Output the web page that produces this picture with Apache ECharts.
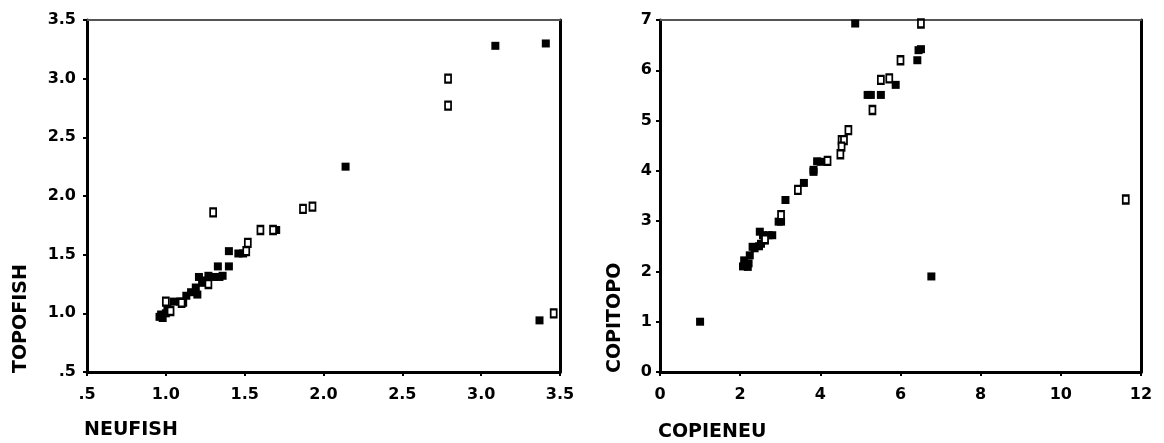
<!DOCTYPE html>
<html>
<head>
<meta charset="utf-8">
<script src="https://cdn.jsdelivr.net/npm/echarts@6/dist/echarts.min.js"></script>
<style>
  html, body { margin: 0; padding: 0; background: #fff; }
  #chart { width: 1164px; height: 443px; }
</style>
</head>
<body>
<div id="chart"></div>
<script>
// NEUFISH vs TOPOFISH
const fishSolid = [
  [3.09, 3.28], [3.41, 3.30], [2.14, 2.25], [1.70, 1.71], [1.40, 1.53],
  [1.46, 1.51], [1.49, 1.51], [1.40, 1.40], [1.33, 1.40], [1.34, 1.31],
  [1.30, 1.31], [1.21, 1.31], [1.25, 1.28], [1.23, 1.26], [1.19, 1.22],
  [1.16, 1.18], [1.13, 1.15], [1.20, 1.16], [1.09, 1.10], [1.11, 1.09],
  [1.05, 1.10], [1.01, 1.04], [1.00, 1.00], [0.96, 0.97], [0.98, 0.96],
  [0.97, 0.99], [3.37, 0.94], [1.36, 1.32], [1.27, 1.32]
];
const fishHollow = [
  [2.79, 3.00], [2.79, 2.77], [1.30, 1.86], [1.87, 1.89], [1.93, 1.91],
  [1.60, 1.71], [1.68, 1.71], [1.52, 1.60], [1.51, 1.53], [1.27, 1.25],
  [1.00, 1.10], [1.03, 1.02], [3.46, 1.00], [1.10, 1.09]
];

// COPIENEU vs COPITOPO
const copiSolid = [
  [1.00, 1.00], [4.87, 6.93], [6.51, 6.42], [6.45, 6.40], [6.42, 6.20],
  [5.88, 5.71], [5.18, 5.51], [5.26, 5.51], [5.51, 5.51], [3.92, 4.19],
  [4.01, 4.18], [3.83, 3.98], [3.83, 4.02], [3.59, 3.76], [3.13, 3.42],
  [2.96, 2.99], [3.02, 2.99], [2.80, 2.72], [2.71, 2.72], [2.57, 2.72],
  [2.49, 2.79], [2.61, 2.62], [2.47, 2.50], [2.31, 2.49], [2.36, 2.46],
  [2.24, 2.32], [2.21, 2.16], [2.10, 2.22], [2.07, 2.10], [2.19, 2.09],
  [6.77, 1.90], [2.52, 2.55]
];
const copiHollow = [
  [6.51, 6.93], [6.00, 6.20], [5.51, 5.81], [5.72, 5.84], [5.30, 5.21],
  [4.70, 4.81], [4.53, 4.61], [4.59, 4.61], [4.53, 4.48], [4.50, 4.33],
  [4.18, 4.20], [3.44, 3.62], [3.02, 3.12], [11.62, 3.43], [2.62, 2.64]
];

const fishTicks = ['.5', '1.0', '1.5', '2.0', '2.5', '3.0', '3.5'];
const copiXTicks = ['0', '2', '4', '6', '8', '10', '12'];
const copiYTicks = ['0', '1', '2', '3', '4', '5', '6', '7'];

const FONT = 'DejaVu Sans';
const tickFont = { fontFamily: FONT, fontWeight: 'bold', fontSize: 16, color: '#000' };

function fishLabel(v) { return fishTicks[Math.round((v - 0.5) / 0.5)] || ''; }

function mainAxis(extra) {
  return Object.assign({
    type: 'value',
    axisLine: { show: true, onZero: false, lineStyle: { color: '#000', width: 3 } },
    axisTick: { show: true, inside: false, length: 4, lineStyle: { color: '#000', width: 2 } },
    splitLine: { show: false },
    axisLabel: Object.assign({}, tickFont)
  }, extra);
}

function frameAxis(extra, color, width) {
  return Object.assign({
    type: 'value',
    axisLine: { show: true, onZero: false, lineStyle: { color: color, width: width } },
    axisTick: { show: false },
    axisLabel: { show: false },
    splitLine: { show: false }
  }, extra);
}

const solidStyle = { color: '#000', opacity: 1 };
const hollowStyle = { color: '#fff', borderColor: '#000', borderWidth: 2, opacity: 1 };

const chart = echarts.init(document.getElementById('chart'), null, { renderer: 'canvas' });

chart.setOption({
  animation: false,
  backgroundColor: '#fff',
  grid: [
    { left: 87, top: 20, width: 473, height: 352 },
    { left: 660, top: 20, width: 481, height: 352 }
  ],
  xAxis: [
    mainAxis({ gridIndex: 0, min: 0.5, max: 3.5, interval: 0.5,
      axisLabel: Object.assign({}, tickFont, { margin: 15, formatter: fishLabel }) }),
    mainAxis({ gridIndex: 1, min: 0, max: 12, interval: 2,
      axisLabel: Object.assign({}, tickFont, { margin: 15,
        formatter: v => copiXTicks[Math.round(v / 2)] }) }),
    frameAxis({ gridIndex: 0, position: 'top', min: 0.5, max: 3.5 }, '#555', 2),
    frameAxis({ gridIndex: 1, position: 'top', min: 0, max: 12 }, '#555', 2)
  ],
  yAxis: [
    mainAxis({ gridIndex: 0, min: 0.5, max: 3.5, interval: 0.5,
      axisLabel: Object.assign({}, tickFont, { margin: 11, formatter: fishLabel }) }),
    mainAxis({ gridIndex: 1, min: 0, max: 7, interval: 1,
      axisLabel: Object.assign({}, tickFont, { margin: 8,
        formatter: v => copiYTicks[Math.round(v)] }) }),
    frameAxis({ gridIndex: 0, position: 'right', min: 0.5, max: 3.5 }, '#000', 3),
    frameAxis({ gridIndex: 1, position: 'right', min: 0, max: 7 }, '#000', 3)
  ],
  series: [
    { type: 'scatter', xAxisIndex: 0, yAxisIndex: 0, data: fishSolid, clip: false,
      symbol: 'rect', symbolSize: [8, 8], itemStyle: solidStyle },
    { type: 'scatter', xAxisIndex: 0, yAxisIndex: 0, data: fishHollow, clip: false,
      symbol: 'rect', symbolSize: [6, 8], itemStyle: hollowStyle },
    { type: 'scatter', xAxisIndex: 1, yAxisIndex: 1, data: copiSolid, clip: false,
      symbol: 'rect', symbolSize: [8, 8], itemStyle: solidStyle },
    { type: 'scatter', xAxisIndex: 1, yAxisIndex: 1, data: copiHollow, clip: false,
      symbol: 'rect', symbolSize: [6, 8], itemStyle: hollowStyle }
  ],
  graphic: [
    { type: 'text', x: 84, y: 430,
      style: { text: 'NEUFISH', fontFamily: FONT, fontWeight: 'bold', fontSize: 19,
        fill: '#000', align: 'left', verticalAlign: 'middle' } },
    { type: 'text', x: 658, y: 432,
      style: { text: 'COPIENEU', fontFamily: FONT, fontWeight: 'bold', fontSize: 19,
        fill: '#000', align: 'left', verticalAlign: 'middle' } },
    { type: 'text', x: 21, y: 373, rotation: Math.PI / 2,
      style: { text: 'TOPOFISH', fontFamily: FONT, fontWeight: 'bold', fontSize: 19,
        fill: '#000', align: 'left', verticalAlign: 'middle' } },
    { type: 'text', x: 615, y: 373, rotation: Math.PI / 2,
      style: { text: 'COPITOPO', fontFamily: FONT, fontWeight: 'bold', fontSize: 19,
        fill: '#000', align: 'left', verticalAlign: 'middle' } }
  ]
});
</script>
</body>
</html>
